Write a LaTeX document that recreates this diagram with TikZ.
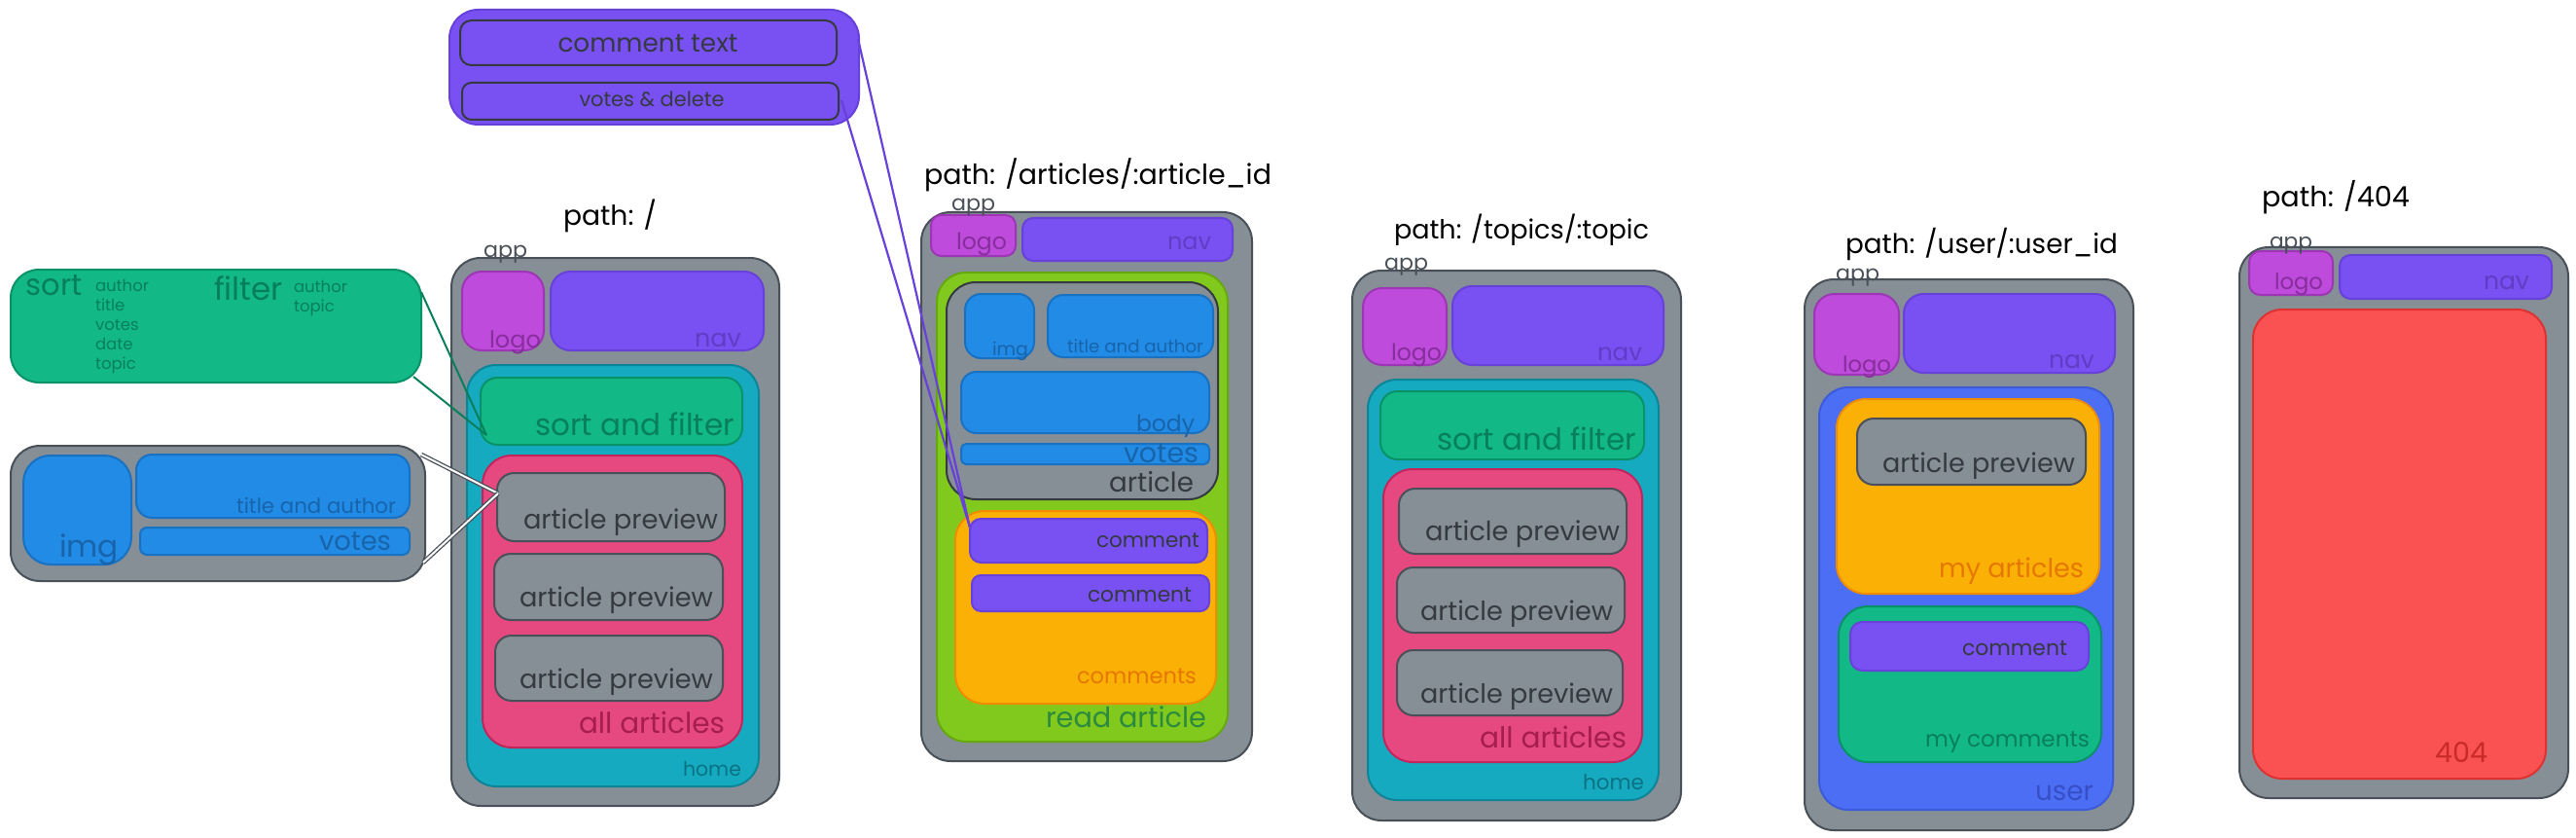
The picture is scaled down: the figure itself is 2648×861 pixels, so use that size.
\documentclass[tikz,border=0pt]{standalone}
\usepackage{fontspec}
\setmainfont{Poppins}
\definecolor{gfill}{HTML}{868E96}\definecolor{gstroke}{HTML}{495057}
\definecolor{dark}{HTML}{343A40}
\definecolor{logofill}{HTML}{BE4BDB}\definecolor{logostroke}{HTML}{9C36B5}\definecolor{logotext}{HTML}{862E9C}
\definecolor{navfill}{HTML}{7950F2}\definecolor{navstroke}{HTML}{6741D9}\definecolor{navtext}{HTML}{5F3DC4}
\definecolor{tealfill}{HTML}{15AABF}\definecolor{tealstroke}{HTML}{0C8599}\definecolor{tealtext}{HTML}{0B7285}
\definecolor{greenfill}{HTML}{12B886}\definecolor{greenstroke}{HTML}{099268}\definecolor{greentext}{HTML}{087F5B}
\definecolor{pinkfill}{HTML}{E64980}\definecolor{pinkstroke}{HTML}{C2255C}\definecolor{pinktext}{HTML}{A61E4D}
\definecolor{bluefill}{HTML}{228BE6}\definecolor{bluestroke}{HTML}{1971C2}\definecolor{bluetext}{HTML}{1864AB}
\definecolor{limefill}{HTML}{82C91E}\definecolor{limestroke}{HTML}{66A80F}\definecolor{limetext}{HTML}{2B8A3E}
\definecolor{orfill}{HTML}{FAB005}\definecolor{orstroke}{HTML}{F08C00}\definecolor{ortext}{HTML}{E67700}
\definecolor{userfill}{HTML}{4C6EF5}\definecolor{userstroke}{HTML}{3B5BDB}\definecolor{usertext}{HTML}{364FC7}
\definecolor{redfill}{HTML}{FA5252}\definecolor{redstroke}{HTML}{E03131}\definecolor{redtext}{HTML}{C92A2A}
\newlength{\lblw}
\newcommand{\fitw}[2]{\settowidth{\lblw}{\fontsize{10}{10}\selectfont #2}\pgfmathsetmacro\tmpfs{10*#1/\lblw}\fontsize{\tmpfs}{\tmpfs}\selectfont #2}
\newcommand{\fsz}[1]{\fontsize{#1}{#1}\selectfont}
\newcommand{\bx}[6]{%
  \pgfmathsetmacro\bxw{#5-#3}\pgfmathsetmacro\bxh{#6-#4}%
  \pgfmathsetmacro\bxr{min(30,0.25*min(\bxw,\bxh))}%
  \node[#2, rounded corners=\bxr pt, minimum width=\bxw pt, minimum height=\bxh pt, anchor=north west] (#1) at (#3,#4) {};}
\tikzset{
  box/.style={inner sep=0pt, outer sep=0pt, line width=2pt},
  gbox/.style={box, fill=gfill, draw=gstroke},
  artbox/.style={box, fill=gfill, draw=dark},
  logobox/.style={box, fill=logofill, draw=logostroke},
  navbox/.style={box, fill=navfill, draw=navstroke},
  navdark/.style={box, fill=navfill, draw=dark},
  tealbox/.style={box, fill=tealfill, draw=tealstroke},
  greenbox/.style={box, fill=greenfill, draw=greenstroke},
  pinkbox/.style={box, fill=pinkfill, draw=pinkstroke},
  bluebox/.style={box, fill=bluefill, draw=bluestroke},
  limebox/.style={box, fill=limefill, draw=limestroke},
  orbox/.style={box, fill=orfill, draw=orstroke},
  userbox/.style={box, fill=userfill, draw=userstroke},
  redbox/.style={box, fill=redfill, draw=redstroke},
  lbl/.style={anchor=base east, inner sep=0pt, outer sep=0pt},
  lblw/.style={anchor=base west, inner sep=0pt, outer sep=0pt},
  ttl/.style={lblw, text=black},
  applbl/.style={lblw, text=gstroke},
  greenconn/.style={draw=greentext, line width=2pt},
  grayconn/.style={draw=gstroke, line width=1.3pt, double=white, double distance=2pt},
  purpconn/.style={draw=navstroke, line width=2.2pt},
}
\begin{document}
\begin{tikzpicture}[x=1pt,y=-1pt]
\useasboundingbox (0,0) rectangle (2648,861);

% ---------- popups on the left ----------
\bx{cpop}{navbox}{462}{10}{883}{128}
\bx{ctext}{navdark}{473}{21}{860}{67}
\bx{cvd}{navdark}{475}{85}{862}{123}
\node[anchor=base, inner sep=0pt, text=dark] (tctext) at (666,54) {\fitw{185}{comment text}};
\node[anchor=base, inner sep=0pt, text=dark] (tcvd) at (670,110) {\fitw{149}{votes \& delete}};

\bx{sortpop}{greenbox}{11}{277}{433}{393}
\node[lblw, text=greentext] (tsort) at (27,303) {\fitw{58}{sort}};
\node[lblw, text=greentext] (ts1) at (98,299) {\fsz{16.5}author};
\node[lblw, text=greentext] (ts2) at (98,319) {\fsz{16.5}title};
\node[lblw, text=greentext] (ts3) at (98,339) {\fsz{16.5}votes};
\node[lblw, text=greentext] (ts4) at (98,359) {\fsz{16.5}date};
\node[lblw, text=greentext] (ts5) at (98,379) {\fsz{16.5}topic};
\node[lblw, text=greentext] (tfilter) at (220,308) {\fitw{71}{filter}};
\node[lblw, text=greentext] (tf1) at (302,300) {\fsz{16.5}author};
\node[lblw, text=greentext] (tf2) at (302,320) {\fsz{16.5}topic};

\bx{imgpop}{gbox}{11}{458}{437}{597}
\bx{ipimg}{bluebox}{24}{468}{135}{580}
\bx{ipta}{bluebox}{140}{467}{421}{532}
\bx{ipvt}{bluebox}{144}{542}{421}{570}
\node[lbl, text=bluetext] (tipta) at (407,527) {\fitw{164}{title and author}};
\node[lbl, text=bluetext] (tipvt) at (402,565) {\fitw{74}{votes}};
\node[lbl, text=bluetext] (tipimg) at (122,572) {\fitw{61}{img}};

% ---------- panel 1: home ----------
\node[ttl] (p1) at (579,232) {\fitw{96}{path: /}};
\bx{app1}{gbox}{464}{265}{801}{828}
\bx{logo1}{logobox}{475}{279}{559}{360}
\bx{nav1}{navbox}{566}{279}{785}{360}
\bx{home1}{tealbox}{480}{375}{780}{808}
\bx{sf1}{greenbox}{494}{388}{763}{457}
\bx{all1}{pinkbox}{496}{468}{763}{768}
\bx{ap11}{gbox}{511}{486}{745}{556}
\bx{ap12}{gbox}{508}{569}{743}{637}
\bx{ap13}{gbox}{509}{653}{743}{720}
\node[applbl] (a1) at (497,264) {\fitw{45}{app}};
\node[lbl, text=logotext] (tl1) at (556,357) {\fitw{53}{logo}};
\node[lbl, text=navtext] (tn1) at (762,356) {\fitw{48}{nav}};
\node[lbl, text=greentext] (tsf1) at (755,447) {\fitw{205}{sort and filter}};
\node[lbl, text=dark] (tap11) at (738,543) {\fitw{200}{article preview}};
\node[lbl, text=dark] (tap12) at (733,623) {\fitw{199}{article preview}};
\node[lbl, text=dark] (tap13) at (733,707) {\fitw{199}{article preview}};
\node[lbl, text=pinktext] (tall1) at (745,753) {\fitw{150}{all articles}};
\node[lbl, text=tealtext] (th1) at (762,797) {\fitw{60}{home}};

% ---------- panel 2: article ----------
\node[ttl] (p2) at (950,190) {\fitw{357}{path: /articles/:article\_id}};
\bx{app2}{gbox}{947}{218}{1287}{782}
\bx{logo2}{logobox}{957}{221}{1044}{263}
\bx{nav2}{navbox}{1051}{224}{1267}{268}
\bx{read2}{limebox}{963}{280}{1262}{762}
\bx{art2}{artbox}{973}{290}{1252}{513}
\bx{img2}{bluebox}{992}{302}{1063}{368}
\bx{ta2}{bluebox}{1077}{303}{1247}{367}
\bx{body2}{bluebox}{988}{382}{1243}{445}
\bx{vt2}{bluebox}{988}{456}{1243}{477}
\bx{cms2}{orbox}{982}{525}{1250}{723}
\bx{cm21}{navbox}{997}{533}{1241}{578}
\bx{cm22}{navbox}{999}{591}{1243}{628}
\node[applbl] (a2) at (978,217) {\fitw{45}{app}};
\node[lbl, text=logotext] (tl2) at (1035,257) {\fitw{52}{logo}};
\node[lbl, text=navtext] (tn2) at (1245,256) {\fitw{45}{nav}};
\node[lbl, text=bluetext] (timg2) at (1057,365) {\fitw{37}{img}};
\node[lbl, text=bluetext] (tta2) at (1237,362) {\fitw{140}{title and author}};
\node[lbl, text=bluetext] (tbody2) at (1228,443) {\fitw{60}{body}};
\node[lbl, text=bluetext] (tvt2) at (1232,475) {\fitw{77}{votes}};
\node[lbl, text=dark] (tart2) at (1227,505) {\fitw{87}{article}};
\node[lbl, text=dark] (tcm21) at (1233,562) {\fitw{106}{comment}};
\node[lbl, text=dark] (tcm22) at (1225,618) {\fitw{107}{comment}};
\node[lbl, text=ortext] (tcms2) at (1230,702) {\fitw{123}{comments}};
\node[lbl, text=limetext] (tread2) at (1240,747) {\fitw{165}{read article}};

% ---------- panel 3: topics ----------
\node[ttl] (p3) at (1433,245) {\fitw{262}{path: /topics/:topic}};
\bx{app3}{gbox}{1390}{278}{1728}{843}
\bx{logo3}{logobox}{1401}{296}{1487}{375}
\bx{nav3}{navbox}{1493}{294}{1710}{375}
\bx{home3}{tealbox}{1406}{390}{1705}{822}
\bx{sf3}{greenbox}{1419}{402}{1690}{472}
\bx{all3}{pinkbox}{1422}{482}{1688}{783}
\bx{ap31}{gbox}{1438}{502}{1672}{569}
\bx{ap32}{gbox}{1436}{583}{1670}{650}
\bx{ap33}{gbox}{1436}{668}{1668}{735}
\node[applbl] (a3) at (1423,277) {\fitw{45}{app}};
\node[lbl, text=logotext] (tl3) at (1482,370) {\fitw{52}{logo}};
\node[lbl, text=navtext] (tn3) at (1688,370) {\fitw{46}{nav}};
\node[lbl, text=greentext] (tsf3) at (1682,462) {\fitw{205}{sort and filter}};
\node[lbl, text=dark] (tap31) at (1665,555) {\fitw{200}{article preview}};
\node[lbl, text=dark] (tap32) at (1658,637) {\fitw{198}{article preview}};
\node[lbl, text=dark] (tap33) at (1658,722) {\fitw{198}{article preview}};
\node[lbl, text=pinktext] (tall3) at (1672,768) {\fitw{151}{all articles}};
\node[lbl, text=tealtext] (th3) at (1690,811) {\fitw{63}{home}};

% ---------- panel 4: user ----------
\node[ttl] (p4) at (1897,260) {\fitw{280}{path: /user/:user\_id}};
\bx{app4}{gbox}{1855}{287}{2193}{853}
\bx{logo4}{logobox}{1865}{302}{1952}{385}
\bx{nav4}{navbox}{1957}{302}{2174}{383}
\bx{user4}{userbox}{1870}{398}{2172}{832}
\bx{myart4}{orbox}{1888}{410}{2158}{610}
\bx{ap4}{gbox}{1909}{430}{2144}{498}
\bx{mycm4}{greenbox}{1890}{623}{2160}{783}
\bx{cm4}{navbox}{1902}{639}{2147}{689}
\node[applbl] (a4) at (1887,288) {\fitw{45}{app}};
\node[lbl, text=logotext] (tl4) at (1944,382) {\fitw{50}{logo}};
\node[lbl, text=navtext] (tn4) at (2153,378) {\fitw{47}{nav}};
\node[lbl, text=dark] (tap4) at (2133,485) {\fitw{198}{article preview}};
\node[lbl, text=ortext] (tmyart4) at (2142,593) {\fitw{149}{my articles}};
\node[lbl, text=dark] (tcm4) at (2125,673) {\fitw{108}{comment}};
\node[lbl, text=greentext] (tmycm4) at (2148,767) {\fitw{169}{my comments}};
\node[lbl, text=usertext] (tuser4) at (2152,822) {\fitw{60}{user}};

% ---------- panel 5: 404 ----------
\node[ttl] (p5) at (2325,213) {\fitw{152}{path: /404}};
\bx{app5}{gbox}{2302}{254}{2640}{820}
\bx{logo5}{logobox}{2312}{258}{2398}{303}
\bx{nav5}{navbox}{2405}{262}{2623}{307}
\bx{red5}{redbox}{2316}{318}{2617}{800}
\node[applbl] (a5) at (2333,255) {\fitw{44}{app}};
\node[lbl, text=logotext] (tl5) at (2388,297) {\fitw{50}{logo}};
\node[lbl, text=navtext] (tn5) at (2600,297) {\fitw{47}{nav}};
\node[lbl, text=redtext] (t404) at (2557,783) {\fitw{54}{404}};

% ---------- connectors ----------
\coordinate (sp1) at (433,300);
\coordinate (sp2) at (425,387);
\coordinate (sfin) at (500,447);
\draw[greenconn] (sp1) -- (sfin);
\draw[greenconn] (sp2) -- (sfin);
\coordinate (ip1) at (433,467);
\coordinate (ip2) at (435,578);
\coordinate (apin) at (512,507);
\draw[grayconn] (ip1) -- (apin);
\draw[grayconn] (ip2) -- (apin);
\coordinate (cp1) at (882,40);
\coordinate (cp2) at (865,103);
\coordinate (cmin) at (997,542);
\draw[purpconn] (cp1) -- (cmin);
\draw[purpconn] (cp2) -- (cmin);
\end{tikzpicture}
\end{document}
